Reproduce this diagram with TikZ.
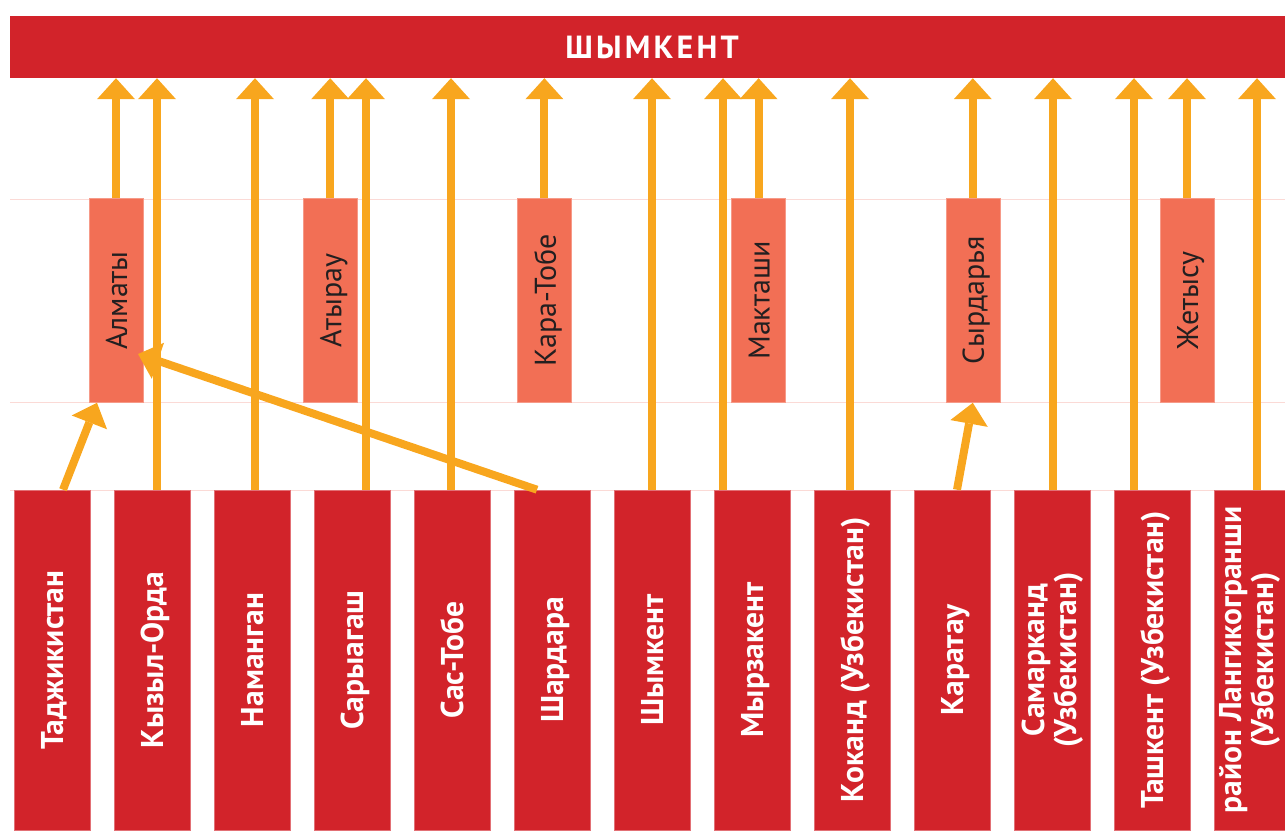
\documentclass[tikz,border=0pt]{standalone}
\usepackage{fontspec}
\setmainfont{PT Sans}
\usepackage{graphicx}
\usetikzlibrary{arrows.meta}

\definecolor{shymred}{HTML}{D2232A}
\definecolor{salmon}{HTML}{F26F55}
\definecolor{routeorange}{HTML}{F8A61E}
\definecolor{guidepink}{HTML}{FBDAD6}
\definecolor{darktext}{HTML}{231F20}

% rotated label, nudged so the capitals sit in the middle of the box
\newcommand{\vlabel}[2][10pt]{\kern#1\rotatebox{90}{\begin{tabular}{@{}c@{}}#2\end{tabular}}}

\tikzset{
  route/.style={draw=routeorange, line width=8pt, -{Triangle[width=38pt,length=21pt,line width=0pt]}},
  citybox/.style={fill=shymred, draw=shymred!65!white, line width=0.6pt, minimum width=76pt, minimum height=340pt, inner sep=0pt, text=white, font=\fontsize{31.5}{30}\selectfont\bfseries},
  transit/.style={fill=salmon, draw=salmon!70!white, line width=0.6pt, minimum width=54pt, minimum height=204pt, inner sep=0pt, text=darktext, font=\fontsize{30}{30}\selectfont},
  guide/.style={draw=guidepink, line width=1pt}
}

\begin{document}
\begin{tikzpicture}[x=1pt,y=-1pt]
        \useasboundingbox (0,0) rectangle (1285,830);

        \foreach \y in {199,402,490}
            \draw[guide] (10,\y) -- (1285,\y);

        \node[fill=shymred, minimum width=1284pt, minimum height=62pt, inner sep=0pt, text=white,
              font=\fontsize{32}{32}\selectfont\bfseries\addfontfeatures{LetterSpace=10}] (top) at (652,47) {ШЫМКЕНТ};

        % middle row
        \foreach \n/\t [count=\i from 0] in {alm/Алматы, atr/Атырау, kt/Кара-Тобе, mak/Макташи, syr/Сырдарья, zht/Жетысу}
            \node[transit] (\n) at (116+214.2*\i,300.5) {\vlabel{\t}};

        % bottom row
        \foreach \n/\t [count=\i from 0] in {b1/Таджикистан, b2/Кызыл-Орда, b3/Наманган, b4/Сарыагаш, b5/Сас-Тобе,
                b6/Шардара, b7/Шымкент, b8/Мырзакент, b9/{Коканд (Узбекистан)}, b10/Каратау}
            \node[citybox] (\n) at (52+100*\i,660) {\vlabel{\t}};
        \node[citybox] (b11) at (1052,660) {\vlabel[4pt]{Самарканд\\(Узбекистан)}};
        \node[citybox] (b12) at (1152,660) {\vlabel{Ташкент (Узбекистан)}};
        \node[citybox] (b13) at (1252,660) {\vlabel[-2pt]{район Лангикогранши\\(Узбекистан)}};

        \foreach \n in {alm,atr,kt,mak,syr,zht}
            \draw[route] (\n.north) -- (\n.north |- top.south);

        \foreach \n/\dx in {b2/5, b3/3, b4/14, b5/-1, b7/0, b8/-29, b9/-2, b11/1, b12/-18, b13/5}
            \draw[route] ([xshift=\dx]\n.north) coordinate (s) -- (s |- top.south);

        \draw[route] ([xshift=11]b1.north) -- ([xshift=-19]alm.south);
        \draw[route] ([xshift=-15]b6.north) -- ([shift={(22,53.5)}]alm.center);
        \draw[route] ([xshift=5]b10.north) -- (syr.south);
\end{tikzpicture}
\end{document}
